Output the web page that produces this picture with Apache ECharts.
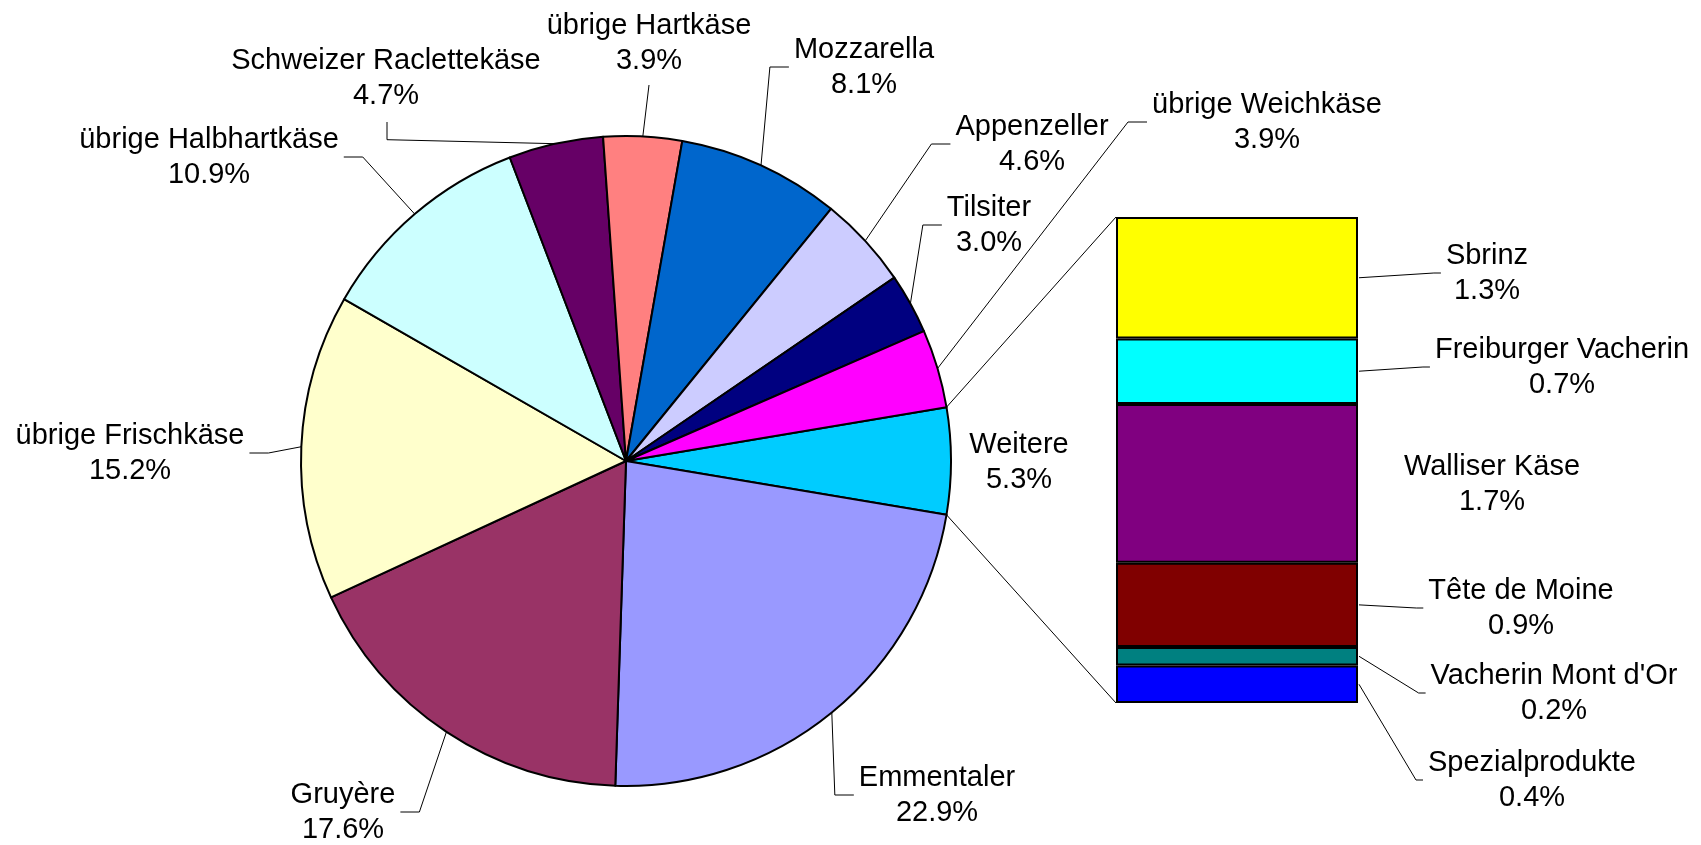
<!DOCTYPE html>
<html><head><meta charset="utf-8">
<script src="https://cdn.jsdelivr.net/npm/echarts@6/dist/echarts.min.js"></script>
<style>html,body{margin:0;padding:0;background:#fff}#c{width:1701px;height:845px}</style>
</head><body><div id="c"></div>
<script>
// ---------- data ----------
const pieNames = ['Weitere','Emmentaler','Gruyère','übrige Frischkäse','übrige Halbhartkäse','Schweizer Raclettekäse','übrige Hartkäse','Mozzarella','Appenzeller','Tilsiter','übrige Weichkäse'];
const pieValues = [5.3, 22.9, 17.6, 15.2, 10.9, 4.7, 3.9, 8.1, 4.6, 3.0, 3.9];
const pieColors = ['#00CCFF','#9999FF','#993366','#FFFFCC','#CCFFFF','#660066','#FF8080','#0066CC','#CCCCFF','#000080','#FF00FF'];

const barNames = ['Sbrinz','Freiburger Vacherin','Walliser Käse','Tête de Moine',"Vacherin Mont d'Or",'Spezialprodukte'];
const barValues = [1.3, 0.7, 1.7, 0.9, 0.2, 0.4];
const barColors = ['#FFFF00','#00FFFF','#800080','#800000','#008080','#0000FF'];

// ---------- layout (label centres, leader attach side) ----------
const pieLabelLayout = {
  'Weitere': [1019, 462, 'none'],
  'Emmentaler': [937, 795, 'left'],
  'Gruyère': [343, 812, 'right'],
  'übrige Frischkäse': [130, 453, 'right'],
  'übrige Halbhartkäse': [209, 157, 'right'],
  'Schweizer Raclettekäse': [386, 78, 'elbow'],
  'übrige Hartkäse': [649, 43, 'bottom'],
  'Mozzarella': [864, 67, 'left'],
  'Appenzeller': [1032, 144, 'left'],
  'Tilsiter': [989, 225, 'left'],
  'übrige Weichkäse': [1267, 122, 'left']
};
const barLabelLayout = {
  'Sbrinz': [1487, 273, true],
  'Freiburger Vacherin': [1562, 367, true],
  'Walliser Käse': [1492, 484, false],
  'Tête de Moine': [1521, 608, true],
  "Vacherin Mont d'Or": [1554, 693, true],
  'Spezialprodukte': [1532, 780, true]
};
const PIE_CENTER = [626, 461];
const PIE_RADIUS = 325;
const FONT = {fontFamily: '"Liberation Sans", Arial, sans-serif', fontSize: 29, lineHeight: 35, color: '#000'};

const pieTotal = pieValues.reduce((a, b) => a + b, 0);
const barTotal = barValues.reduce((a, b) => a + b, 0);
const startAngle = pieValues[0] / pieTotal * 360 / 2;

const chart = echarts.init(document.getElementById('c'), null, {renderer: 'canvas'});

function fmt(name, v) { return name + '\n' + v.toFixed(1) + '%'; }

const pieSeries = {
  type: 'pie',
  center: PIE_CENTER,
  radius: PIE_RADIUS,
  startAngle: startAngle,
  clockwise: true,
  avoidLabelOverlap: false,
  animation: false,
  data: pieNames.map((n, i) => ({
    name: n, value: pieValues[i],
    itemStyle: {color: pieColors[i]},
    labelLine: {show: pieLabelLayout[n][2] !== 'none'}
  })),
  itemStyle: {borderColor: '#000', borderWidth: 2},
  label: Object.assign({show: true, position: 'outside', formatter: p => fmt(p.name, p.value)}, FONT),
  labelLine: {show: true, smooth: false, lineStyle: {color: '#000', width: 1}},
  emphasis: {disabled: true},
  labelLayout: function (p) {
    const L = pieLabelLayout[pieNames[p.dataIndex]];
    const cx = L[0], cy = L[1];
    const w = p.labelRect.width, h = p.labelRect.height;
    const p0 = p.labelLinePoints && p.labelLinePoints[0];
    const r = {x: cx, y: cy, align: 'center', verticalAlign: 'middle'};
    let pts = null;
    if (p0) {
      if (L[2] === 'left') { const s = cx - w / 2; pts = [p0, [s - 24, cy], [s - 5, cy]]; }
      else if (L[2] === 'right') { const s = cx + w / 2; pts = [p0, [s + 24, cy], [s + 5, cy]]; }
      else if (L[2] === 'bottom') { const b = cy + h / 2 + 7; pts = [p0, [cx, b], [cx, b]]; }
      else if (L[2] === 'elbow') { const b = cy + h / 2 + 9; pts = [p0, [cx + 1, p0[1] - 4], [cx + 1, b]]; }
    }
    if (pts) r.labelLinePoints = pts;
    return r;
  }
};

// stacked from bottom: reverse of top-to-bottom order
const order = barNames.map((n, i) => i).reverse();
const barSeries = order.map(i => ({
  type: 'bar', name: barNames[i], stack: 'w', barWidth: '100%',
  animation: false,
  data: [barValues[i]],
  itemStyle: {color: barColors[i], borderColor: '#000', borderWidth: 2},
  emphasis: {disabled: true},
  label: Object.assign({show: true, formatter: () => fmt(barNames[i], barValues[i])}, FONT),
  labelLayout: function () {
    const L = barLabelLayout[barNames[i]];
    return {x: L[0], y: L[1], align: 'center', verticalAlign: 'middle'};
  }
}));

chart.setOption({
  backgroundColor: '#fff',
  animation: false,
  tooltip: {show: false},
  grid: {left: 1116, top: 217, width: 242, height: 486},
  xAxis: {type: 'category', data: ['Weitere'], show: false},
  yAxis: {type: 'value', min: 0, max: barTotal, show: false},
  series: [pieSeries].concat(barSeries)
});

// ---------- connectors (computed from library coordinates) ----------
const ctx = document.createElement('canvas').getContext('2d');
ctx.font = '29px "Liberation Sans", Arial, sans-serif';
function textW(s) { return Math.max.apply(null, s.split('\n').map(t => ctx.measureText(t).width)); }

let rect;
try { rect = chart.getModel().getComponent('grid', 0).coordinateSystem.getRect(); } catch (e) { rect = null; }
const yTop = chart.convertToPixel({yAxisIndex: 0}, barTotal);
const yBot = chart.convertToPixel({yAxisIndex: 0}, 0);
const xc = chart.convertToPixel({xAxisIndex: 0}, 'Weitere');
const barLeft = rect ? rect.x : xc - 121;
const barRight = rect ? rect.x + rect.width : xc + 121;

const g = [];
const a = startAngle * Math.PI / 180;
const arcTop = [PIE_CENTER[0] + PIE_RADIUS * Math.cos(a), PIE_CENTER[1] - PIE_RADIUS * Math.sin(a)];
const arcBot = [PIE_CENTER[0] + PIE_RADIUS * Math.cos(a), PIE_CENTER[1] + PIE_RADIUS * Math.sin(a)];
const ls = {stroke: '#000', lineWidth: 1, fill: null};
g.push({type: 'polyline', silent: true, z: 10, shape: {points: [arcTop, [barLeft, yTop]]}, style: ls});
g.push({type: 'polyline', silent: true, z: 10, shape: {points: [arcBot, [barLeft, yBot]]}, style: ls});

let below = barTotal;
barNames.forEach((n, i) => {
  below -= barValues[i];
  const L = barLabelLayout[n];
  if (!L[2]) return;
  const yMid = chart.convertToPixel({yAxisIndex: 0}, below + barValues[i] / 2);
  const left = L[0] - textW(fmt(n, barValues[i])) / 2;
  g.push({type: 'polyline', silent: true, z: 10,
    shape: {points: [[barRight + 1, yMid], [left - 12, L[1]], [left - 5, L[1]]]}, style: ls});
});
chart.setOption({graphic: g});
</script></body></html>
